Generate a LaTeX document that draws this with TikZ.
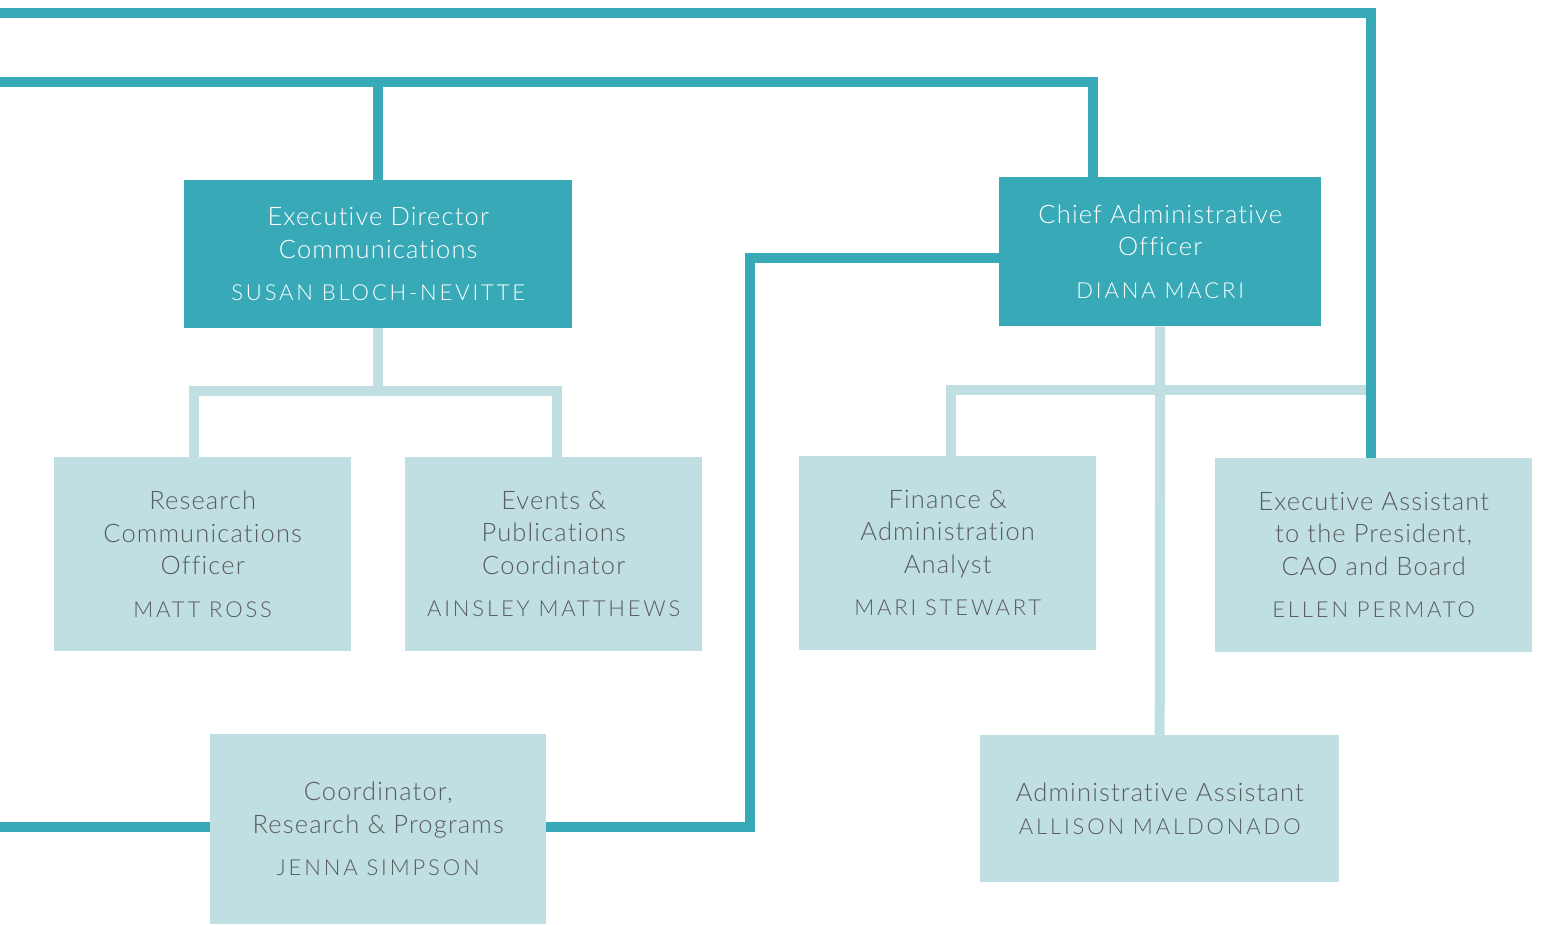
\documentclass[tikz,border=0pt]{standalone}
\usepackage{fontspec}
\setmainfont{Lato Light}[LetterSpace=4.5,Ligatures=NoCommon]
\usetikzlibrary{calc}
\definecolor{dark}{HTML}{38A9B7}
\definecolor{light}{HTML}{BFDFE2}
\definecolor{graytxt}{HTML}{5A5B5D}
\newfontfamily\namefont{Lato Light}[LetterSpace=13,Ligatures=NoCommon]
\tikzset{
  box/.style={anchor=north west, inner sep=0pt, align=center, font=\fontsize{25.5}{32.5}\selectfont},
  darkbox/.style={box, fill=dark, text=white},
  lightbox/.style={box, fill=light, text=graytxt},
  dk/.style={draw=dark, line width=10pt},
  lt/.style={draw=light, line width=10pt},
}
\newcommand{\nm}[1]{{\namefont\fontsize{22}{26}\selectfont #1}}
\begin{document}
\begin{tikzpicture}[x=1pt,y=-1pt]
\useasboundingbox (0,0) rectangle (1542,924);
% nodes
\node[darkbox, minimum width=388pt, minimum height=148pt] (ed) at (184,180)
  {Executive Director\\Communications\\[10pt]\nm{SUSAN BLOCH-NEVITTE}};
\node[darkbox, minimum width=322pt, minimum height=149pt] (cao) at (999,177)
  {Chief Administrative\\Officer\\[10pt]\nm{DIANA MACRI}};
\node[lightbox, minimum width=297pt, minimum height=194pt] (rco) at (54,457)
  {Research\\Communications\\Officer\\[10pt]\nm{MATT ROSS}};
\node[lightbox, minimum width=297pt, minimum height=194pt] (evc) at (405,457)
  {Events \&\\Publications\\Coordinator\\[10pt]\nm{AINSLEY MATTHEWS}};
\node[lightbox, minimum width=297pt, minimum height=194pt] (fin) at (799,456)
  {Finance \&\\Administration\\Analyst\\[10pt]\nm{MARI STEWART}};
\node[lightbox, minimum width=317pt, minimum height=194pt] (ea) at (1215,458)
  {Executive Assistant\\to the President,\\CAO and Board\\[10pt]\nm{ELLEN PERMATO}};
\node[lightbox, minimum width=359pt, minimum height=147pt] (aa) at (980,735)
  {Administrative Assistant\\\nm{ALLISON MALDONADO}};
\node[lightbox, minimum width=336pt, minimum height=190pt] (crp) at (210,734)
  {Coordinator,\\Research \& Programs\\[10pt]\nm{JENNA SIMPSON}};
% coordinates
\coordinate (L1) at (0,13);
\coordinate (L2) at (0,82);
\coordinate (L3) at (0,827);
\coordinate (eaV) at ([xshift=156pt]ea.north west);
\coordinate (hb) at (1371,390);
% light connectors
\draw[lt] (ed.south) -- ++(0,63);
\draw[lt] ([xshift=-9pt]rco.north) -- ++(0,-66) -| ([xshift=3pt]evc.north);
\draw[lt] (cao.south) -- (aa.north);
\draw[lt] ([xshift=3.5pt]fin.north) |- (hb);
% dark connectors
\draw[dk] (L1) -| (eaV);
\draw[dk] (L2) -| ([xshift=94pt]cao.north west);
\draw[dk] (ed.north) -- (ed.north |- L2);
\draw[dk] (L3) -- (crp.west |- L3);
\draw[dk] (crp.east |- L3) -- ++(204,0) |- ([yshift=-6pt]cao.west);
\end{tikzpicture}
\end{document}
